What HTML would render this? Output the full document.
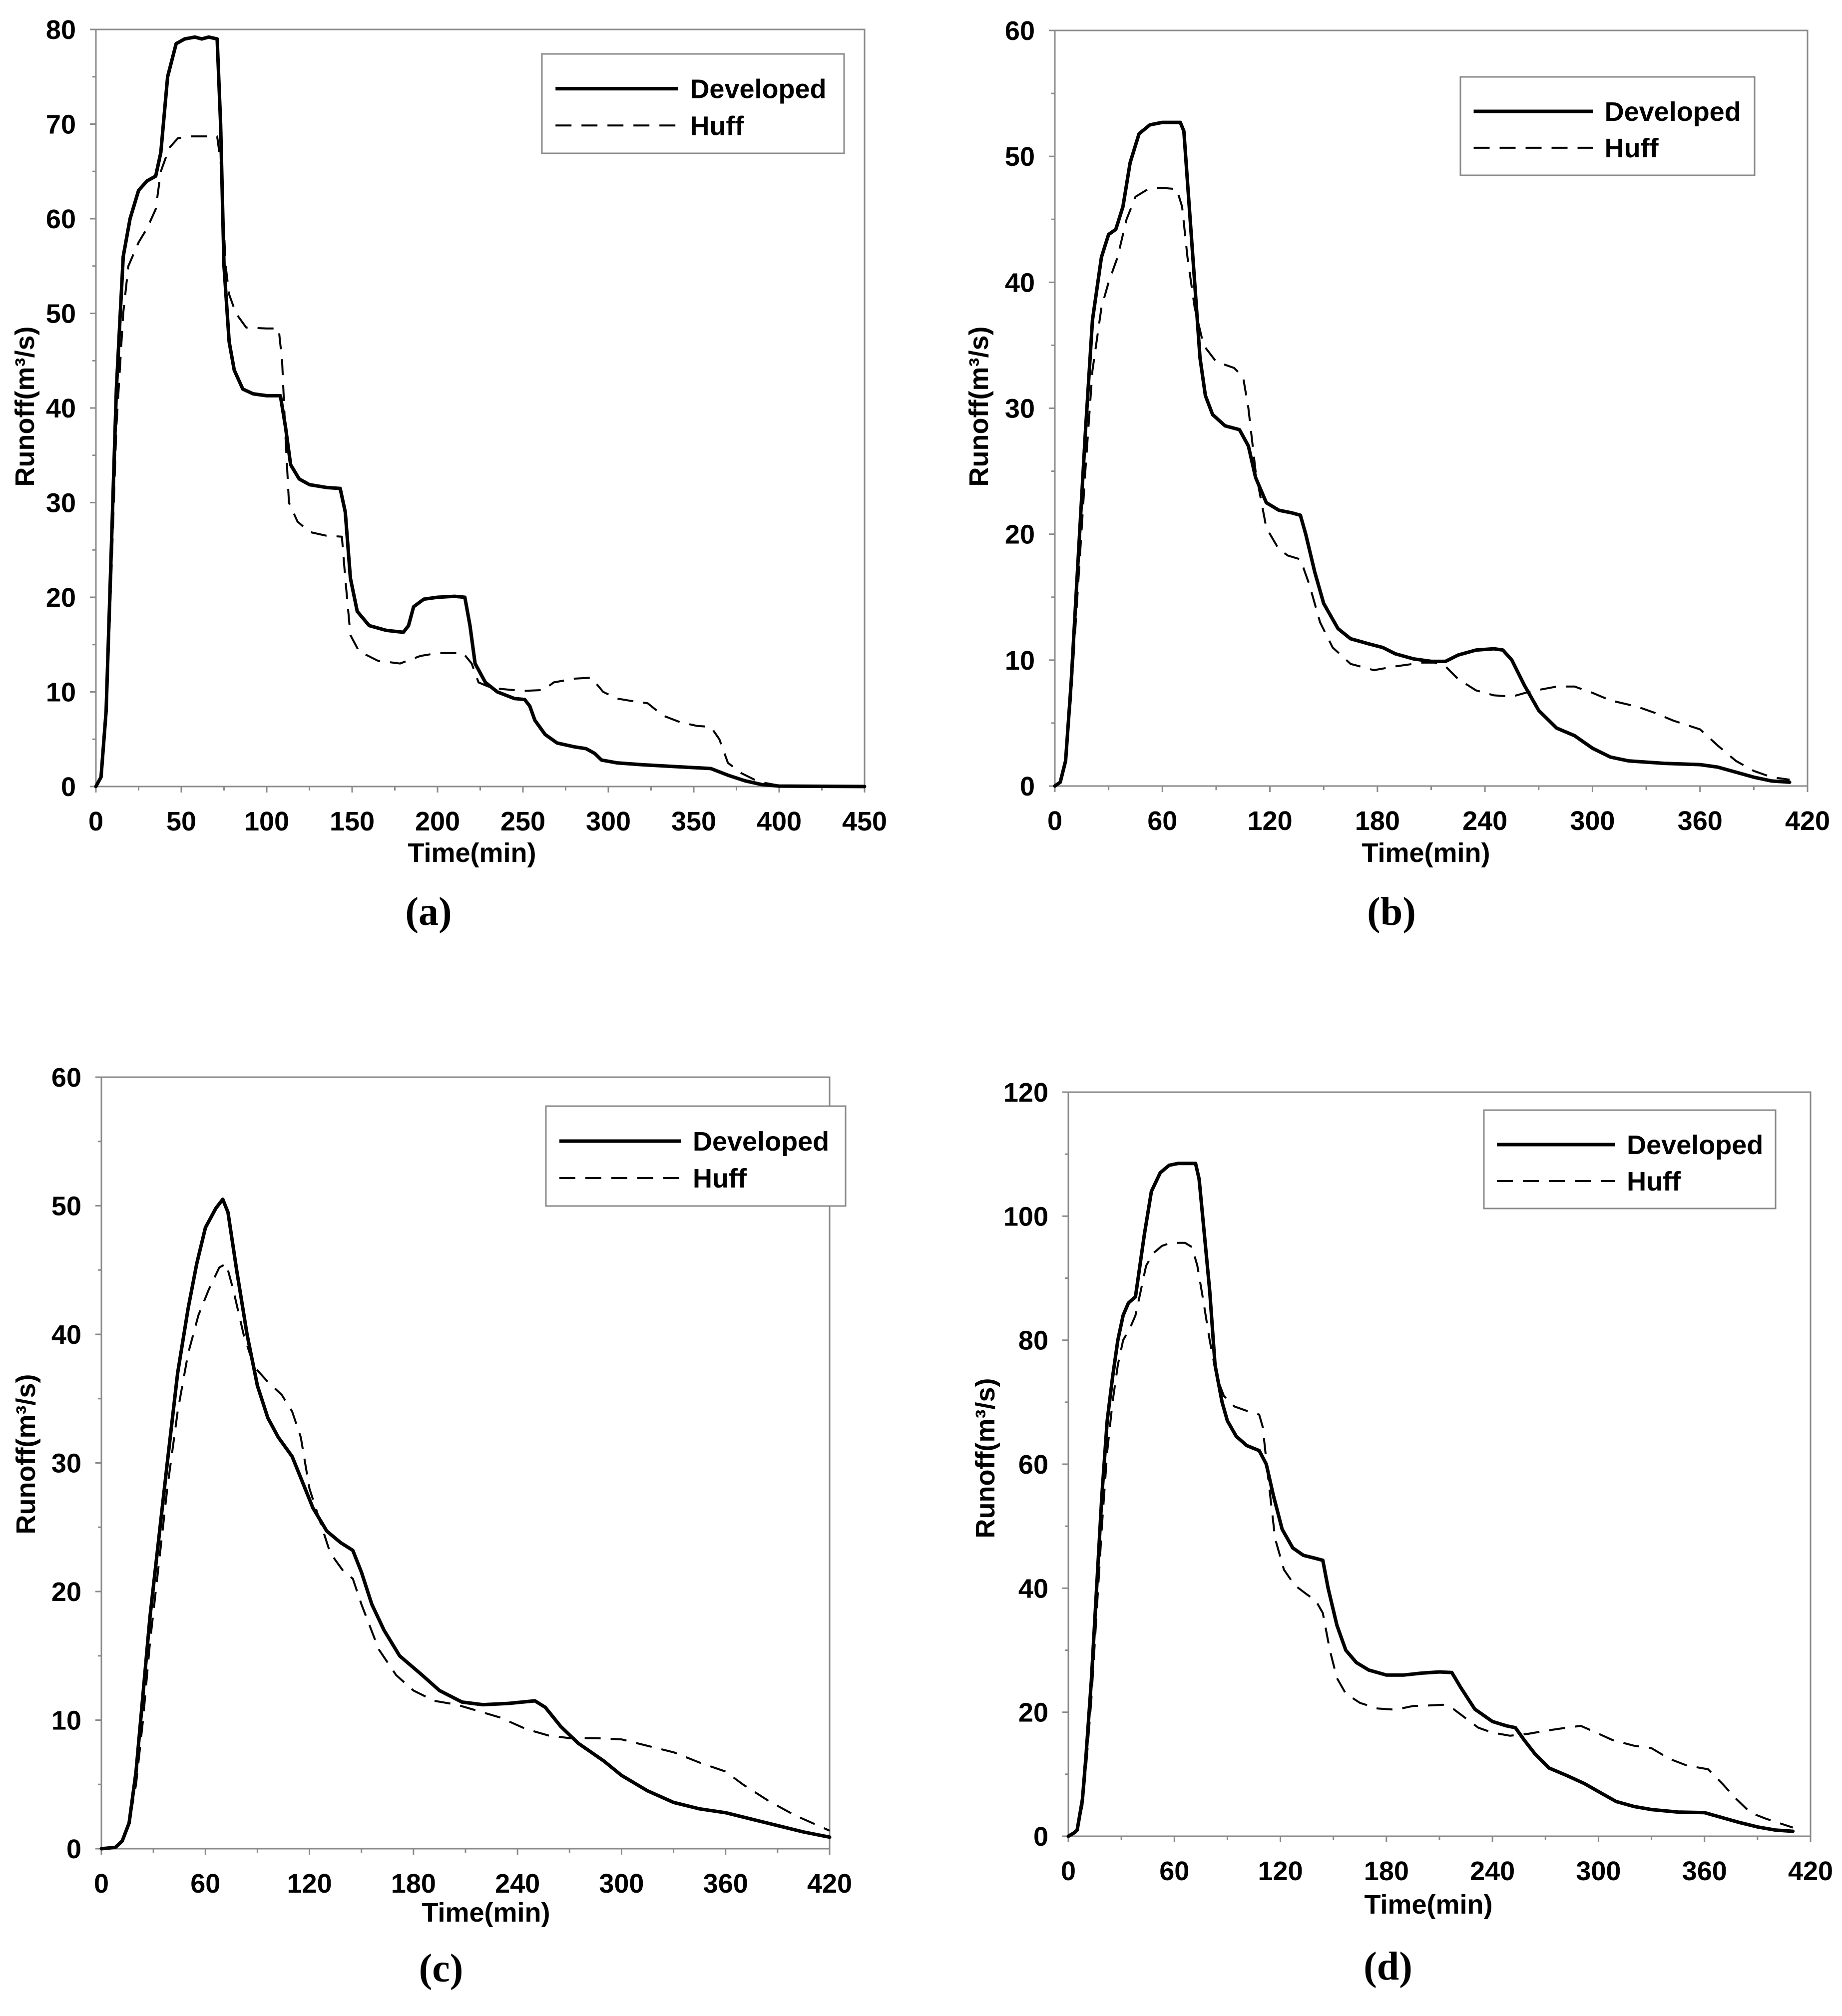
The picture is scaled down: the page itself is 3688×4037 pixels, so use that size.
<!DOCTYPE html>
<html><head><meta charset="utf-8"><style>
html,body{margin:0;padding:0;background:#fff;}
svg{display:block;font-family:"Liberation Sans",Arial,sans-serif;}
</style></head><body>
<svg id="fig" width="3688" height="4037" viewBox="0 0 3688 4037" xmlns="http://www.w3.org/2000/svg">
<rect width="3688" height="4037" fill="#fff"/>
<g id="pa"></g>
<g id="pb"></g>
<g id="pc"></g>
<g id="pd"></g>
<g font-weight="bold" font-size="54" fill="#000">
<text x="945" y="1726" text-anchor="middle">Time(min)</text>
<text x="2855" y="1726" text-anchor="middle">Time(min)</text>
<text x="973" y="3848" text-anchor="middle">Time(min)</text>
<text x="2860" y="3832" text-anchor="middle">Time(min)</text>
<text transform="translate(68,814) rotate(-90)" text-anchor="middle">Runoff(m³/s)</text>
<text transform="translate(1978,814) rotate(-90)" text-anchor="middle">Runoff(m³/s)</text>
<text transform="translate(70,2912) rotate(-90)" text-anchor="middle">Runoff(m³/s)</text>
<text transform="translate(1991,2920) rotate(-90)" text-anchor="middle">Runoff(m³/s)</text>
</g>
<g font-family="Liberation Serif,serif" font-weight="bold" font-size="80" fill="#000" text-anchor="middle">
<text x="858" y="1852">(a)</text>
<text x="2786" y="1852">(b)</text>
<text x="883" y="3968">(c)</text>
<text x="2779" y="3964">(d)</text>
</g>
</svg>
<script>
// Panel (a)
const aTime=[0,3,6,9,12,16,20,25,30,35,38,42,47,52,58,62,66,71,73,75,78,81,86,92,100,108,111,114,119,125,135,143,146,149,153,160,170,180,183,186,192,200,210,216,219,222,228,235,245,251,254,257,263,270,280,287,292,296,305,320,340,360,370,380,390,400,450];
const aDev=[0,1,8,25,42,56,60,63,64,64.5,67,75,78.5,79,79.2,79,79.2,79,70,55,47,44,42,41.5,41.3,41.3,38,34,32.5,31.9,31.6,31.5,29,22,18.5,17,16.5,16.3,17,19,19.8,20,20.1,20,17,13,11,10,9.3,9.2,8.5,7,5.5,4.6,4.2,4,3.5,2.8,2.5,2.3,2.1,1.9,1.2,0.6,0.2,0.05,0];
const aHuffTime=[0,3,6,9,12,16,19,25,30,35,38,43,48,55,65,71,73,76,78,82,88,100,107,109,111,113,118,125,135,144,146,149,154,165,178,190,200,215,220,224,232,250,262,268,280,290,297,305,315,323,332,342,352,360,365,370,378,388,400,450];
const aHuff=[0,1,7,22,38,50,55,57.5,59,61,65,67.5,68.5,68.7,68.7,68.7,66,55,52,50,48.5,48.4,48.4,45,37,30,28,26.9,26.5,26.4,22,16,14.3,13.3,13,13.8,14.1,14.1,13,11,10.4,10.1,10.2,11,11.4,11.5,10,9.3,9,8.8,7.5,6.8,6.4,6.3,5,2.5,1.4,0.5,0.1,0];
const aXTicks=[0,50,100,150,200,250,300,350,400,450];
const aYTicks=[0,10,20,30,40,50,60,70,80];
// Panel (b)
const bTime=[0,3,6,9,13,17,21,26,30,34,38,42,47,53,60,70,72,75,78,81,84,88,95,103,108,112,118,125,132,137,140,145,150,158,165,175,183,190,200,210,218,225,235,245,250,255,262,270,280,290,300,310,320,340,360,370,380,390,400,410];
const bDev=[0,0.3,2,8,18,28,37,42,43.8,44.2,46,49.5,51.8,52.5,52.7,52.7,52,46,40,34,31,29.5,28.6,28.3,27,24.5,22.5,21.9,21.7,21.5,20,17,14.5,12.5,11.7,11.3,11,10.5,10.1,9.9,9.9,10.4,10.8,10.9,10.8,10,8,6,4.6,4,3,2.3,2,1.8,1.7,1.5,1.1,0.7,0.4,0.3];
const bHuffTime=[0,3,6,9,13,17,21,26,30,35,40,45,52,60,68,71,74,78,83,90,100,105,108,112,118,125,130,137,142,148,155,165,178,190,205,212,218,225,235,245,255,265,280,290,300,310,325,335,345,360,370,380,390,400,410];
const bHuff=[0,0.3,2,7,16,25,33,38,40,42,45,46.8,47.4,47.5,47.4,46,42,38,35,33.7,33.2,32.5,30,25,20.5,18.8,18.3,18,16,13,11,9.7,9.2,9.5,9.8,9.8,9.5,8.5,7.6,7.2,7.1,7.5,7.9,7.9,7.4,6.8,6.3,5.8,5.2,4.5,3.2,2,1.2,0.7,0.5];
const bXTicks=[0,60,120,180,240,300,360,420];
const bYTicks=[0,10,20,30,40,50,60];
// Panel (c)
const cTime=[0,8,12,16,20,24,28,33,38,44,50,55,60,66,70,73,78,84,90,96,102,110,116,122,130,138,145,150,156,163,172,185,195,208,220,235,250,256,265,275,290,300,315,330,345,360,375,390,405,420];
const cDev=[0,0.1,0.6,2,6,12,18,24,30,37,42,45.5,48.3,49.8,50.5,49.5,45,40,36,33.5,32,30.5,28.5,26.5,24.7,23.8,23.2,21.5,19,17,15,13.5,12.3,11.4,11.2,11.3,11.5,11,9.5,8.2,6.8,5.7,4.5,3.6,3.1,2.8,2.3,1.8,1.3,0.9];
const cHuffTime=[0,8,12,16,20,24,28,33,38,44,50,56,62,68,72,76,82,88,96,104,110,115,120,126,132,140,145,150,160,170,180,192,205,215,230,245,258,270,285,300,315,330,345,360,370,385,400,420];
const cHuff=[0,0.1,0.5,2,5,10,16,22,28,34,38.5,41.5,43.5,45.2,45.5,43.5,40,37.5,36.3,35.3,34,32,28,25.5,23,21.5,21,19,15.5,13.5,12.3,11.5,11.2,10.8,10.2,9.3,8.8,8.6,8.6,8.5,8,7.5,6.7,6,5,3.7,2.6,1.4];
const cXTicks=[0,60,120,180,240,300,360,420];
const cYTicks=[0,10,20,30,40,50,60];
// Panel (d)
const dTime=[0,3,5,8,10,13,16,19,22,25,28,31,34,38,40,43,47,52,57,62,72,74,76,80,83,87,90,95,101,108,112,116,121,127,133,140,144,147,152,157,163,170,180,190,200,210,217,222,230,240,248,253,258,264,272,282,292,300,310,320,330,345,360,370,380,390,400,410];
const dDev=[0,0.5,1,6,13,25,40,55,67,74,80,84,86,87,91,97,104,107,108.2,108.5,108.5,106,100,88,76,70,67,64.5,63,62.2,60,55,49.5,46.5,45.3,44.8,44.5,40,34,30,28,26.8,26,26,26.3,26.5,26.4,24,20.5,18.5,17.8,17.5,15.5,13.3,11,9.8,8.5,7.2,5.6,4.8,4.3,3.9,3.8,3,2.2,1.5,1,0.8];
const dHuffTime=[0,3,5,8,10,13,16,19,22,25,28,31,35,38,41,44,48,53,58,66,70,73,76,80,84,88,94,102,108,110,113,117,122,128,135,140,144,148,152,157,165,175,185,195,205,212,218,225,232,240,250,260,270,282,290,298,308,320,330,340,350,362,370,378,386,395,410];
const dHuff=[0,0.5,1,5,11,22,36,50,62,70,76,80,82,84,88,92,94,95.2,95.7,95.7,95,92,87,80,74,71,69.3,68.5,68,66,58,48,43,40.5,39,38,36,30,25.5,23,21.5,20.6,20.4,21,21.1,21.2,20.5,19,17.5,16.7,16.2,16.5,17,17.5,17.8,16.8,15.5,14.6,14.2,12.5,11.4,10.8,8.5,6,3.8,2.8,1.4];
const dXTicks=[0,60,120,180,240,300,360,420];
const dYTicks=[0,20,40,60,80,100,120];

const NS='http://www.w3.org/2000/svg';
function mk(parent,tag,attrs){const e=document.createElementNS(NS,tag);for(const k in attrs)e.setAttribute(k,attrs[k]);parent.appendChild(e);return e;}

function panel(id,cfg,xTicks,yTicks,t1,v1,t2,v2){
  const g=document.getElementById(id);
  const xmax=xTicks[xTicks.length-1], ymax=yTicks[yTicks.length-1];
  const sx=v=>cfg.x0+(cfg.x1-cfg.x0)*v/xmax;
  const sy=v=>cfg.y0-(cfg.y0-cfg.y1)*v/ymax;
  const fr=mk(g,'rect',{x:cfg.x0,y:cfg.y1,width:cfg.x1-cfg.x0,height:cfg.y0-cfg.y1,fill:'none',stroke:'#8a8a8a','stroke-width':3});
  
  
  for(let i=0;i<yTicks.length;i++){
    const y=sy(yTicks[i]);
    const tk=mk(g,'line',{x1:cfg.x0-12,x2:cfg.x0,y1:y,y2:y,stroke:'#8a8a8a','stroke-width':3});
    
    
    if(i<yTicks.length-1){
      const ym=sy((yTicks[i]+yTicks[i+1])/2);
      const mt=mk(g,'line',{x1:cfg.x0-7,x2:cfg.x0,y1:ym,y2:ym,stroke:'#8a8a8a','stroke-width':3});
      
      
    }
    const lb=mk(g,'text',{x:cfg.x0-40,y:y+19,'text-anchor':'end','font-size':54,'font-weight':'bold'});
    lb.textContent=yTicks[i];
    
    
  }
  for(let i=0;i<xTicks.length;i++){
    const x=sx(xTicks[i]);
    const tk=mk(g,'line',{x1:x,x2:x,y1:cfg.y0,y2:cfg.y0+12,stroke:'#8a8a8a','stroke-width':3});
    
    
    if(i<xTicks.length-1){
      const xm=sx((xTicks[i]+xTicks[i+1])/2);
      const mt=mk(g,'line',{x1:xm,x2:xm,y1:cfg.y0,y2:cfg.y0+8,stroke:'#8a8a8a','stroke-width':3});
      
      
    }
    const lb=mk(g,'text',{x:x,y:cfg.y0+88,'text-anchor':'middle','font-size':54,'font-weight':'bold'});
    lb.textContent=xTicks[i];
    
    
  }
  const pts=(t,v)=>t.map((tt,i)=>sx(tt).toFixed(1)+','+sy(v[i]).toFixed(1)).join(' ');
  const h=mk(g,'polyline',{points:pts(t2,v2),fill:'none',stroke:'#000','stroke-width':4,'stroke-dasharray':'32 20','stroke-linejoin':'round'});
  
  
  const d=mk(g,'polyline',{points:pts(t1,v1),fill:'none',stroke:'#000','stroke-width':7,'stroke-linejoin':'round','stroke-linecap':'round'});
  
  
  const L=cfg.leg;
  const lg=mk(g,'g',{});
  
  
  mk(lg,'rect',{x:L[0],y:L[1],width:L[2]-L[0],height:L[3]-L[1],fill:'#fff',stroke:'#8a8a8a','stroke-width':3});
  const w=L[2]-L[0], hh=L[3]-L[1];
  const y1=L[1]+hh*0.35, y2=L[1]+hh*0.72;
  const ld=mk(lg,'line',{x1:L[0]+w*0.045,x2:L[0]+w*0.45,y1:y1,y2:y1,stroke:'#000','stroke-width':7});
  
  
  const lh=mk(lg,'line',{x1:L[0]+w*0.045,x2:L[0]+w*0.45,y1:y2,y2:y2,stroke:'#000','stroke-width':4,'stroke-dasharray':'32 20'});
  
  
  const t1e=mk(lg,'text',{x:L[0]+w*0.49,y:y1+19,'font-size':54,'font-weight':'bold'});
  t1e.textContent='Developed';
  
  
  const t2e=mk(lg,'text',{x:L[0]+w*0.49,y:y2+19,'font-size':54,'font-weight':'bold'});
  t2e.textContent='Huff';
  
  
}
panel('pa',{x0:192,x1:1731,y0:1575,y1:59,leg:[1085,108,1690,307]},aXTicks,aYTicks,aTime,aDev,aHuffTime,aHuff);
panel('pb',{x0:2112,x1:3619,y0:1574,y1:61,leg:[2924,154,3513,351]},bXTicks,bYTicks,bTime,bDev,bHuffTime,bHuff);
panel('pc',{x0:203,x1:1661,y0:3702,y1:2157,leg:[1093,2215,1693,2415]},cXTicks,cYTicks,cTime,cDev,cHuffTime,cHuff);
panel('pd',{x0:2139,x1:3625,y0:3677,y1:2187,leg:[2971,2223,3555,2420]},dXTicks,dYTicks,dTime,dDev,dHuffTime,dHuff);
</script>
</body></html>
